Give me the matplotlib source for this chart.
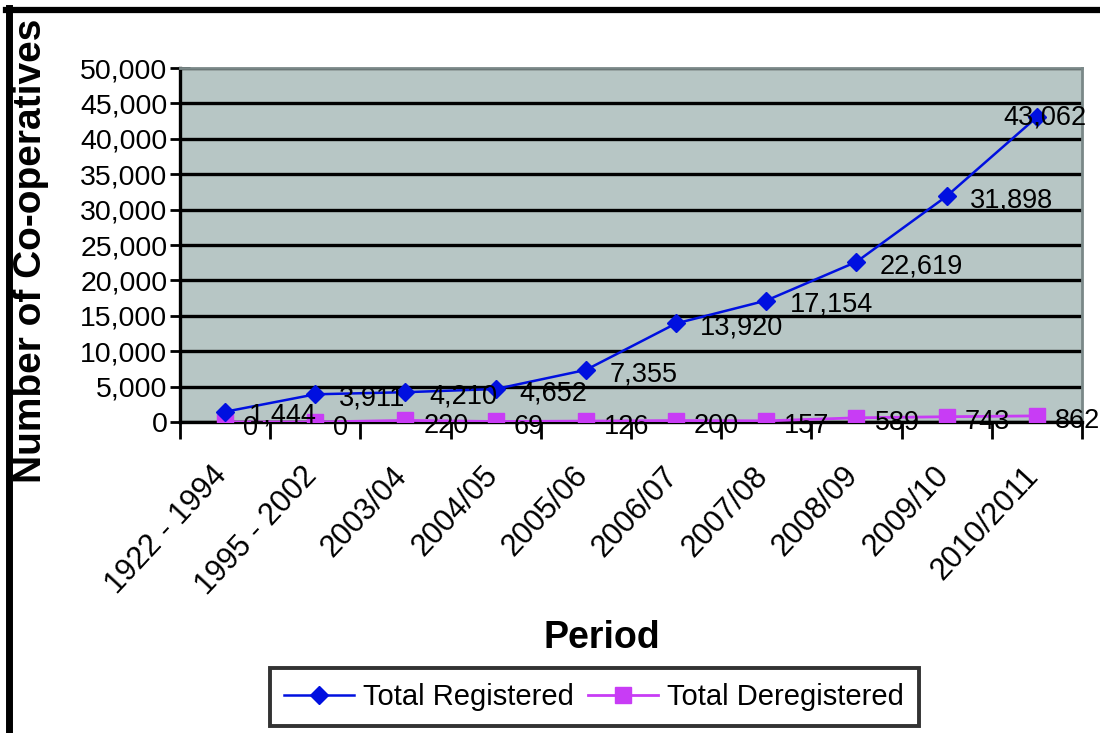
import matplotlib.pyplot as plt
from matplotlib.lines import Line2D
from matplotlib.ticker import FuncFormatter, FixedLocator
from matplotlib.transforms import ScaledTranslation

plt.rcParams['font.family'] = ['Liberation Sans', 'DejaVu Sans']

# --- data ---
periods = ['1922 - 1994', '1995 - 2002', '2003/04', '2004/05', '2005/06',
           '2006/07', '2007/08', '2008/09', '2009/10', '2010/2011']
registered = [1444, 3911, 4210, 4652, 7355, 13920, 17154, 22619, 31898, 43062]
deregistered = [0, 0, 220, 69, 126, 200, 157, 589, 743, 862]

fig = plt.figure(figsize=(11, 7.33), dpi=100, facecolor='white')
ax = fig.add_axes([0.1636, 0.4243, 0.82, 0.4829])
ax.set_facecolor('#B7C6C5')

x = list(range(len(periods)))
ax.plot(x, registered, color='#0010E0', lw=1.8, marker='D', ms=9.5,
        label='Total Registered', zorder=4)
ax.plot(x, deregistered, color='#C83CF5', lw=2, marker='s', ms=11,
        label='Total Deregistered', zorder=3)

# data labels
for i, v in enumerate(registered):
    if i == len(registered) - 1:
        off = (-24, 0)
    else:
        off = (17, -3)
    ax.annotate(f'{v:,}', (i, v), xytext=off, textcoords='offset points',
                ha='left', va='center', fontsize=19.5, color='black',
                zorder=6, annotation_clip=False)
for i, v in enumerate(deregistered):
    ax.annotate(f'{v:,}', (i, v), xytext=(13, -4), textcoords='offset points',
                ha='left', va='center', fontsize=19.5, color='black',
                zorder=6, annotation_clip=False)

# axes
ax.set_xlim(-0.5, 9.5)
ax.set_ylim(0, 50000)
ax.set_yticks(range(0, 50001, 5000))
ax.yaxis.set_major_formatter(FuncFormatter(lambda v, p: f'{int(v):,}'))
ax.tick_params(axis='y', direction='inout', length=14, width=2,
               labelsize=20.5, pad=2, colors='black')
ax.yaxis.grid(True, color='black', lw=2.4, zorder=1)
ax.set_axisbelow(True)

ax.xaxis.set_major_locator(FixedLocator([i + 0.5 for i in range(-1, 10)]))
ax.set_xticklabels([])
ax.set_xticks(x, minor=True)
ax.set_xticklabels(periods, minor=True, rotation=47, ha='right',
                   rotation_mode='anchor', fontsize=22)
ax.tick_params(axis='x', which='major', direction='out', length=12, width=2)
ax.tick_params(axis='x', which='minor', length=0, pad=28)
shift = ScaledTranslation(-14 / 100, 0, fig.dpi_scale_trans)
for lbl in ax.get_xticklabels(minor=True):
    lbl.set_transform(lbl.get_transform() + shift)

for s in ['left', 'bottom']:
    ax.spines[s].set_color('black')
    ax.spines[s].set_linewidth(2.4)
for s in ['top', 'right']:
    ax.spines[s].set_color('#7A8888')
    ax.spines[s].set_linewidth(2)

ax.set_xlabel('Period', fontsize=27, fontweight='bold')
ax.xaxis.set_label_coords(0.468, -0.56)
fig.text(0.028, 0.658, 'Number of Co-operatives', rotation=90, fontsize=28,
         fontweight='bold', ha='center', va='center')

leg = fig.legend(loc='center', bbox_to_anchor=(0.54, 0.049), ncol=2,
                 fontsize=21, frameon=True, fancybox=False, handlelength=2.4,
                 handletextpad=0.3, columnspacing=0.5, borderpad=0.5,
                 borderaxespad=0)
leg.get_frame().set_edgecolor('black')
leg.get_frame().set_linewidth(2.8)

# outer frame (top and left)
fig.add_artist(Line2D([0.005, 1.0], [0.986, 0.986], color='black', lw=4.5,
                      transform=fig.transFigure))
fig.add_artist(Line2D([0.008, 0.008], [0.0, 0.989], color='black', lw=5,
                      transform=fig.transFigure))

fig.savefig('out.png', dpi=100, facecolor='white')
